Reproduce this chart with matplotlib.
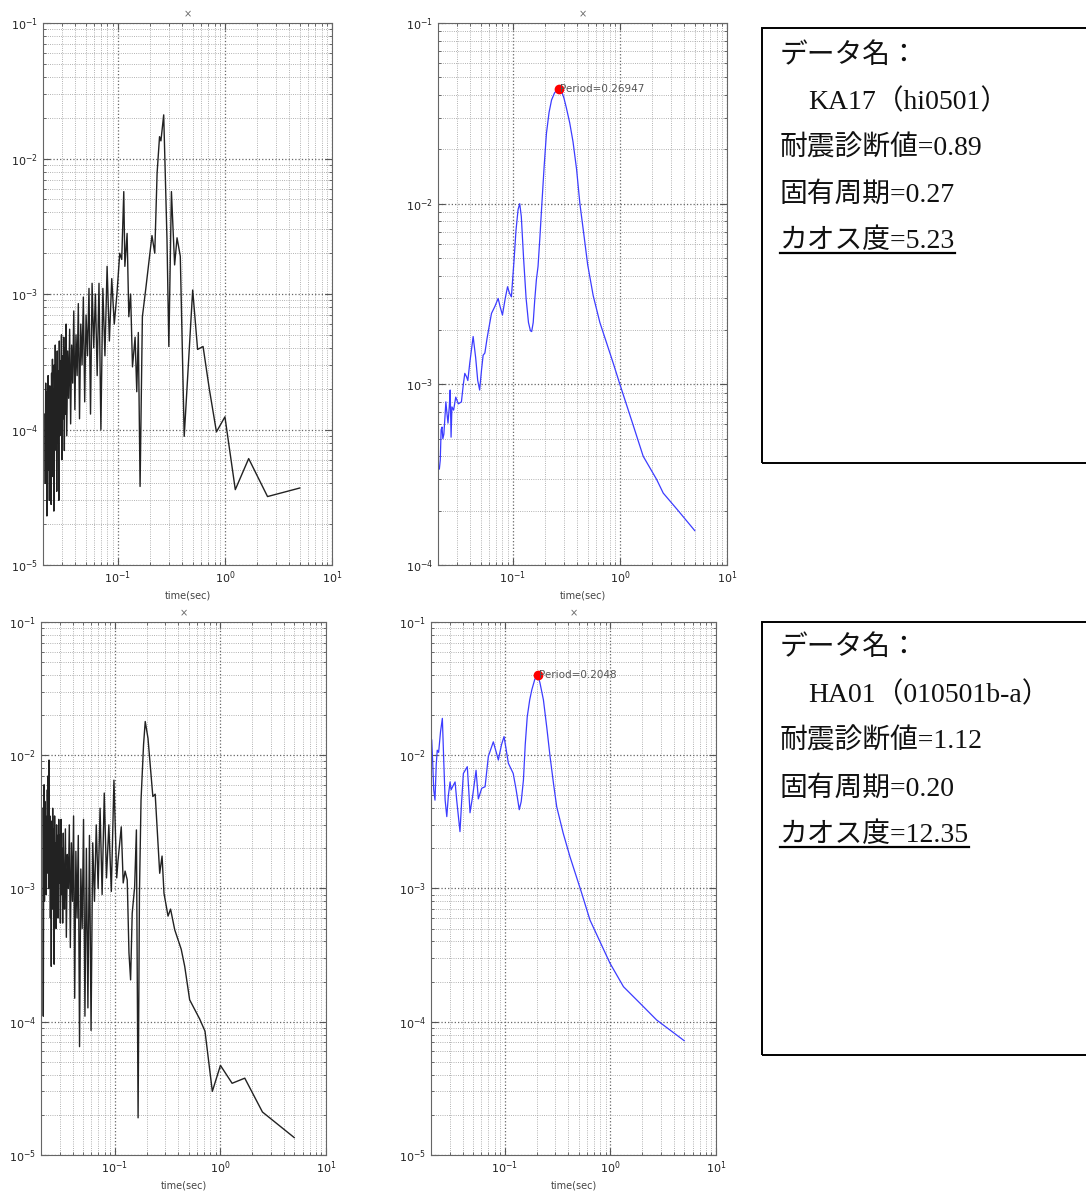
import numpy as np
import matplotlib
matplotlib.use('Agg')
import matplotlib.pyplot as plt
from matplotlib.ticker import LogLocator, NullFormatter
from matplotlib.patches import Rectangle
from matplotlib.lines import Line2D

# --- data ----------------------------------------------------------------
# periods (sec) of the dense part of the two Fourier spectra (black curves)
dense_period = [0.02083, 0.02101, 0.02119, 0.02137, 0.02155, 0.02174, 0.02193, 0.02212,
                0.02232, 0.02252, 0.02273, 0.02294, 0.02315, 0.02336, 0.02358, 0.02381,
                0.02404, 0.02427, 0.02451, 0.02475, 0.02500, 0.02525, 0.02551, 0.02577,
                0.02604, 0.02632, 0.02660, 0.02688, 0.02717, 0.02747, 0.02778, 0.02809,
                0.02841, 0.02874, 0.02907, 0.02941, 0.02976, 0.03012, 0.03049, 0.03086,
                0.03125, 0.03165, 0.03205, 0.03247, 0.03289, 0.03333,
                0.03401, 0.03472, 0.03546, 0.03623, 0.03704, 0.03788, 0.03876, 0.03968,
                0.04065, 0.04167, 0.04274, 0.04386, 0.04505, 0.04630, 0.04762, 0.04902,
                0.05051, 0.05208, 0.05376, 0.05556, 0.05747, 0.05952, 0.06173, 0.06410,
                0.06667, 0.06944, 0.07246, 0.07576, 0.07937, 0.08333, 0.08772, 0.09259,
                0.09804, 0.10417]

# KA17 (hi0501) - fourier spectrum
ka_fft_dense = [1.3e-4, 4.0e-5, 2.2e-4, 6.0e-5, 1.6e-4, 2.3e-5, 1.9e-4, 5.0e-5, 2.5e-4, 8.0e-5,
                1.4e-4, 3.0e-5, 2.1e-4, 6.5e-5, 1.7e-4, 2.8e-5, 2.6e-4, 9.0e-5, 3.3e-4, 4.5e-5,
                2.0e-4, 2.5e-5, 3.0e-4, 7.0e-5, 4.2e-4, 1.1e-4, 2.4e-4, 3.5e-5, 3.8e-4, 8.0e-5,
                2.7e-4, 3.0e-5, 4.5e-4, 9.0e-5, 3.2e-4, 1.4e-4, 5.0e-4, 6.0e-5, 3.5e-4, 1.2e-4,
                4.8e-4, 7.0e-5, 4.0e-4, 1.3e-4, 6.0e-4, 9.0e-5,
                3.8e-4, 1.7e-4, 5.5e-4, 1.1e-4, 4.2e-4, 2.2e-4, 7.5e-4, 1.4e-4, 5.0e-4,
                2.5e-4, 8.5e-4, 1.2e-4, 6.0e-4, 3.0e-4, 9.5e-4, 1.6e-4, 7.0e-4, 3.5e-4, 1.1e-3,
                1.3e-4, 1.2e-3, 4.0e-4, 1.0e-3, 2.5e-4, 1.2e-3, 1.0e-4, 1.1e-3, 3.5e-4, 1.6e-3,
                4.5e-4, 1.3e-3, 6.0e-4, 1.0e-3, 2.0e-3]
ka_tail_period = [0.1087, 0.1136, 0.1163, 0.1220, 0.1266, 0.1316, 0.1370, 0.1449, 0.1502,
                  0.1553, 0.1613, 0.1695, 0.1825, 0.2083, 0.2212, 0.2326, 0.2451, 0.2525,
                  0.2681, 0.2878, 0.2994, 0.3165, 0.3390, 0.3571, 0.3830, 0.4167, 0.5000,
                  0.5556, 0.6250, 0.7143, 0.8333, 1.0000, 1.2500, 1.6667, 2.5000, 5.0000]
ka_fft_tail = [1.8e-3, 5.7e-3, 1.6e-3, 2.8e-3, 6.8e-4, 1.0e-3, 2.9e-4, 4.8e-4, 1.9e-4,
               5.2e-4, 3.8e-5, 6.8e-4, 1.1e-3, 2.7e-3, 2.0e-3, 7.8e-3, 1.45e-2, 1.35e-2,
               2.1e-2, 2.5e-3, 4.1e-4, 5.7e-3, 1.64e-3, 2.6e-3, 1.9e-3, 8.9e-5, 1.07e-3,
               3.9e-4, 4.1e-4, 2.0e-4, 9.6e-5, 1.24e-4, 3.6e-5, 6.1e-5, 3.2e-5, 3.7e-5]

# KA17 (hi0501) - smoothed spectrum (blue)
ka_sm_period = [0.0206, 0.0210, 0.0214, 0.0218, 0.0222, 0.0227, 0.0232, 0.0237, 0.0242, 0.0248,
                0.0255, 0.0260, 0.0265, 0.0270, 0.0280, 0.0293, 0.0310, 0.0331, 0.0345, 0.0356,
                0.0370, 0.0380, 0.0396, 0.0426, 0.0450, 0.0470, 0.0490, 0.0510, 0.0528, 0.0548,
                0.0575, 0.0600, 0.0632, 0.0680, 0.0729, 0.0760, 0.0800, 0.0850, 0.0893, 0.0930,
                0.0970, 0.1030, 0.1070, 0.1120, 0.1160, 0.1200, 0.1260, 0.1330, 0.1400, 0.1460,
                0.1500, 0.1550, 0.1600, 0.1660, 0.1720, 0.1790, 0.1860, 0.1960, 0.2060, 0.2180,
                0.2300, 0.2450, 0.2600, 0.2695, 0.2850, 0.3000, 0.3160, 0.3400, 0.3650, 0.3940,
                0.4230, 0.4600, 0.5000, 0.5630, 0.6500, 0.7500, 0.8700, 1.0000, 1.3000, 1.6500,
                2.2000, 2.5400, 3.5000, 5.0000]
ka_sm_amp = [3.4e-4, 3.8e-4, 5.6e-4, 5.8e-4, 5.0e-4, 5.3e-4, 6.5e-4, 8.0e-4, 7.0e-4, 6.1e-4,
             7.5e-4, 9.3e-4, 5.1e-4, 7.5e-4, 7.2e-4, 8.5e-4, 7.8e-4, 8.0e-4, 1.0e-3, 1.15e-3,
             1.1e-3, 1.05e-3, 1.31e-3, 1.84e-3, 1.4e-3, 1.05e-3, 9.3e-4, 1.2e-3, 1.45e-3, 1.49e-3,
             1.8e-3, 2.08e-3, 2.47e-3, 2.7e-3, 2.99e-3, 2.7e-3, 2.42e-3, 3.0e-3, 3.47e-3, 3.2e-3,
             3.05e-3, 5.0e-3, 7.1e-3, 9.3e-3, 1.0e-2, 8.5e-3, 5.0e-3, 3.0e-3, 2.2e-3, 1.98e-3,
             1.96e-3, 2.2e-3, 2.9e-3, 3.8e-3, 4.5e-3, 6.5e-3, 9.6e-3, 1.6e-2, 2.45e-2, 3.2e-2,
             3.75e-2, 4.1e-2, 4.28e-2, 4.3e-2, 4.2e-2, 3.85e-2, 3.4e-2, 2.8e-2, 2.2e-2, 1.55e-2,
             1.0e-2, 6.8e-3, 4.6e-3, 3.1e-3, 2.2e-3, 1.7e-3, 1.3e-3, 1.0e-3, 6.2e-4, 4.0e-4,
             2.98e-4, 2.5e-4, 2.0e-4, 1.55e-4]
ka_peak_period = 0.26947
ka_peak_amp = 4.3e-2

# HA01 (010501b-a) - fourier spectrum
ha_fft_dense = [4.0e-3, 1.1e-4, 2.0e-3, 6.0e-3, 8.0e-4, 4.5e-3, 1.2e-3, 3.5e-3, 9.0e-4, 2.8e-3,
                1.3e-3, 5.5e-3, 1.5e-3, 7.0e-3, 1.0e-3, 9.2e-3, 2.0e-3, 3.5e-3, 6.0e-4, 2.4e-3,
                2.6e-4, 3.2e-3, 7.0e-4, 4.0e-3, 1.2e-3, 2.8e-3, 2.7e-4, 3.5e-3, 9.0e-4, 2.2e-3,
                5.0e-4, 3.0e-3, 1.0e-3, 2.5e-3, 6.0e-4, 3.3e-3, 1.1e-3, 2.5e-3, 5.5e-4, 3.3e-3,
                9.0e-4, 2.0e-3, 5.5e-4, 2.6e-3, 1.0e-3, 7.0e-4,
                2.8e-3, 4.3e-4, 1.8e-3, 1.0e-3, 3.0e-3, 3.6e-4, 2.2e-3, 8.0e-4, 3.5e-3,
                1.5e-4, 1.9e-3, 6.0e-4, 2.5e-3, 6.5e-5, 1.4e-3, 5.0e-4, 3.3e-3, 1.1e-4, 2.0e-3,
                1.27e-4, 2.5e-3, 8.6e-5, 2.2e-3, 8.0e-4, 3.0e-3, 1.0e-3, 4.0e-3, 9.0e-4, 5.2e-3,
                1.2e-3, 3.0e-3, 9.5e-4, 6.5e-3, 1.2e-3]
ha_tail_period = [0.107, 0.115, 0.120, 0.125, 0.131, 0.136, 0.141, 0.146, 0.154, 0.160, 0.166,
                  0.171, 0.177, 0.187, 0.194, 0.206, 0.229, 0.241, 0.266, 0.280, 0.292, 0.319,
                  0.337, 0.369, 0.425, 0.459, 0.511, 0.635, 0.714, 0.838, 1.0, 1.29, 1.70,
                  2.5, 5.0]
ha_fft_tail = [1.6e-3, 2.9e-3, 1.1e-3, 1.35e-3, 1.16e-3, 3.3e-4, 2.06e-4, 6.5e-4, 1.03e-3,
               2.75e-3, 1.9e-5, 9.2e-4, 4.6e-3, 1.2e-2, 1.79e-2, 1.34e-2, 4.9e-3, 5.1e-3,
               1.3e-3, 1.75e-3, 9.2e-4, 6.2e-4, 7.0e-4, 4.9e-4, 3.5e-4, 2.6e-4, 1.46e-4,
               1.05e-4, 8.5e-5, 3.0e-5, 4.7e-5, 3.45e-5, 3.77e-5, 2.1e-5, 1.35e-5]

# HA01 (010501b-a) - smoothed spectrum (blue)
ha_sm_period = [0.0203, 0.0207, 0.0212, 0.0218, 0.0224, 0.0229, 0.0236, 0.0246, 0.0256, 0.0264,
                0.0272, 0.0282, 0.0292, 0.0303, 0.0310, 0.0320, 0.0338, 0.0350, 0.0376, 0.0390,
                0.0405, 0.0441, 0.0455, 0.0468, 0.0495, 0.0534, 0.0561, 0.0604, 0.0650, 0.0698,
                0.0778, 0.0830, 0.0868, 0.0930, 0.0983, 0.1030, 0.1080, 0.1200, 0.1280, 0.1370,
                0.1430, 0.1500, 0.1560, 0.1630, 0.1720, 0.1800, 0.1920, 0.2048, 0.2150, 0.2320,
                0.2500, 0.2680, 0.2900, 0.3100, 0.3570, 0.4140, 0.5350, 0.6400, 0.8000, 0.9900,
                1.3300, 1.9000, 2.7400, 5.0000]
ha_sm_amp = [1.3e-2, 9.2e-3, 5.5e-3, 4.6e-3, 8.5e-3, 1.09e-2, 1.05e-2, 1.5e-2, 1.89e-2, 9.0e-3,
             4.6e-3, 3.46e-3, 5.0e-3, 6.3e-3, 5.5e-3, 5.8e-3, 6.3e-3, 4.6e-3, 2.67e-3, 4.5e-3,
             7.3e-3, 8.2e-3, 5.5e-3, 3.7e-3, 4.9e-3, 7.7e-3, 4.7e-3, 5.65e-3, 5.8e-3, 9.8e-3,
             1.26e-2, 1.05e-2, 9.2e-3, 1.2e-2, 1.38e-2, 1.1e-2, 8.7e-3, 7.3e-3, 5.5e-3, 3.9e-3,
             4.5e-3, 6.5e-3, 1.2e-2, 1.94e-2, 2.6e-2, 3.09e-2, 3.7e-2, 4.0e-2, 3.5e-2, 2.6e-2,
             1.6e-2, 9.8e-3, 6.0e-3, 4.1e-3, 2.6e-3, 1.73e-3, 9.2e-4, 5.8e-4, 3.96e-4, 2.75e-4,
             1.83e-4, 1.38e-4, 1.03e-4, 7.2e-5]
ha_peak_period = 0.2048
ha_peak_amp = 4.0e-2

ka_info = ['データ名：', 'KA17（hi0501）', '耐震診断値=0.89', '固有周期=0.27', 'カオス度=5.23']
ha_info = ['データ名：', 'HA01（010501b-a）', '耐震診断値=1.12', '固有周期=0.20', 'カオス度=12.35']

# --- figure ----------------------------------------------------------------
fig = plt.figure(figsize=(10.86, 11.94), dpi=100)


def style_axis(ax, ylo):
    ax.set_xscale('log')
    ax.set_yscale('log')
    ax.set_xlim(0.02, 10)
    ax.set_ylim(ylo, 0.1)
    for axis in (ax.xaxis, ax.yaxis):
        axis.set_major_locator(LogLocator(base=10, numticks=12))
        axis.set_minor_locator(LogLocator(base=10, subs=np.arange(2, 10), numticks=60))
        axis.set_minor_formatter(NullFormatter())
    ax.grid(True, which='major', linestyle=':', color='#666666', linewidth=0.9)
    ax.grid(True, which='minor', linestyle=':', color='#999999', linewidth=0.6)
    ax.tick_params(which='both', direction='in', top=True, right=True,
                   colors='#555555', labelsize=8, labelcolor='#222222')
    ax.tick_params(which='major', length=5)
    ax.tick_params(which='minor', length=2.5)
    for s in ax.spines.values():
        s.set_color('#666666')
    ax.set_title('×', fontsize=7, color='#666666', pad=4)
    ax.set_xlabel('time(sec)', fontsize=7, color='#444444', labelpad=3)


ax_tl = fig.add_axes([0.0396, 0.5268, 0.2661, 0.4539])
ax_tr = fig.add_axes([0.4033, 0.5268, 0.2661, 0.4539])
ax_bl = fig.add_axes([0.0378, 0.0327, 0.2624, 0.4464])
ax_br = fig.add_axes([0.3969, 0.0327, 0.2624, 0.4464])

style_axis(ax_tl, 1e-5)
style_axis(ax_tr, 1e-4)
style_axis(ax_bl, 1e-5)
style_axis(ax_br, 1e-5)

ax_tl.plot(dense_period + ka_tail_period, ka_fft_dense + ka_fft_tail, color='#222222', lw=1.0)
ax_bl.plot(dense_period + ha_tail_period, ha_fft_dense + ha_fft_tail, color='#222222', lw=1.0)

ax_tr.plot(ka_sm_period, ka_sm_amp, color='#3c3cff', lw=0.9)
ax_tr.plot(ka_peak_period, ka_peak_amp, 'o', color='red', ms=6)
ax_tr.text(ka_peak_period * 1.03, ka_peak_amp, 'Period=0.26947', fontsize=7.5,
           color='#555555', va='center')

ax_br.plot(ha_sm_period, ha_sm_amp, color='#3c3cff', lw=0.9)
ax_br.plot(ha_peak_period, ha_peak_amp, 'o', color='red', ms=6)
ax_br.text(ha_peak_period * 1.03, ha_peak_amp, 'Period=0.2048', fontsize=7.5,
           color='#555555', va='center')

# --- info boxes ------------------------------------------------------------
jp_font = ['Liberation Serif', 'Noto Sans CJK JP', 'DejaVu Sans']


def info_box(top, bottom, lines, ys):
    fig.add_artist(Rectangle((0.7017, bottom), 0.32, top - bottom, transform=fig.transFigure,
                             fill=False, edgecolor='black', linewidth=1.4, clip_on=False))
    texts = []
    for i, (line, y) in enumerate(zip(lines, ys)):
        x = 0.744 if i == 1 else 0.7182
        texts.append(fig.text(x, y, line, fontsize=20, family=jp_font, va='center',
                              ha='left', color='#111111'))
    return texts[-1]


last_ka = info_box(0.9765, 0.6122, ka_info, [0.9531, 0.9146, 0.8760, 0.8367, 0.7982])
last_ha = info_box(0.4791, 0.1164, ha_info, [0.4573, 0.4179, 0.3786, 0.3392, 0.3007])

fig.canvas.draw()
inv = fig.transFigure.inverted()
for t in (last_ka, last_ha):
    bb = t.get_window_extent().transformed(inv)
    fig.add_artist(Line2D([bb.x0, bb.x1], [bb.y0 + 0.001, bb.y0 + 0.001],
                          transform=fig.transFigure, color='black', lw=1.6))

fig.savefig('out.png', dpi=100)
